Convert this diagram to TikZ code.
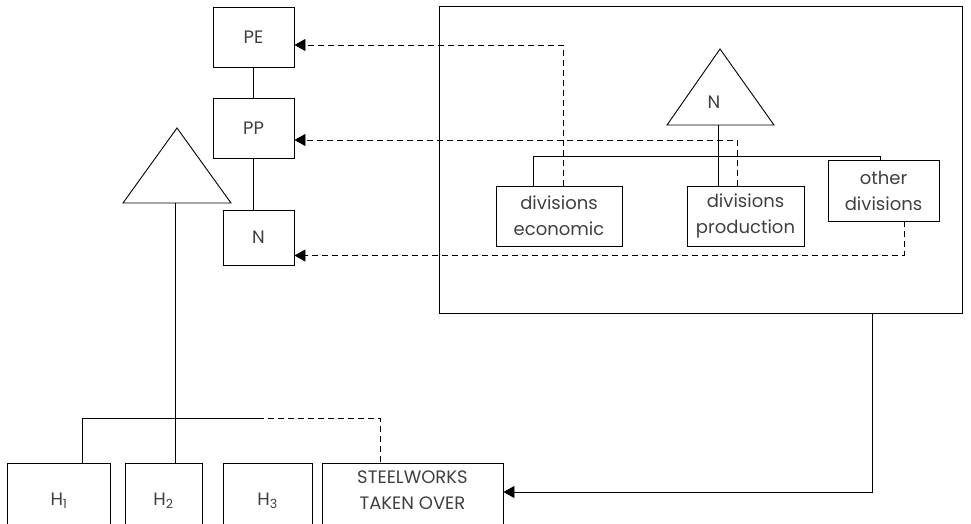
\documentclass[tikz,border=0pt]{standalone}
\usepackage{fontspec}
\setmainfont{Poppins}
\usepackage{tikz}
\usetikzlibrary{arrows.meta}

\begin{document}
\begin{tikzpicture}[x=1pt, y=-1pt, line width=0.9pt,
    box/.style={draw, rectangle, inner sep=2pt, align=center, text=black!75,
      font=\fontsize{18}{26}\selectfont},
    link/.style={dash pattern=on 6pt off 4pt},
    tip/.style={-{Triangle[length=11pt, width=12pt]}}]
    %\draw[help lines, step=50] (0, 0) grid (971, 523);
    \useasboundingbox (0, 0) rectangle (971, 523);

    % left column
    \node[box, minimum width=81pt, minimum height=60pt] at (253.5, 37) (PE) {PE};
    \node[box, minimum width=81pt, minimum height=60pt] at (253.5, 128) (PP) {PP};
    \node[box, minimum width=71pt, minimum height=55pt] at (258.5, 237.5) (N) {N};
    \draw (PE.south) -- (PP.north);
    \draw (PP.south) -- (PP.south |- N.north);

    % left triangle and the companies
    \draw (177, 128) -- (231, 203) -- (123, 203) -- cycle;
    \coordinate (root) at (175, 203);

    \node[box, minimum width=103pt, minimum height=76pt] at (59, 501) (H1) {H\textsubscript{1}};
    \node[box, minimum width=77pt, minimum height=76pt] at (163.5, 501) (H2) {H\textsubscript{2}};
    \node[box, minimum width=89pt, minimum height=76pt] at (267.5, 501) (H3) {H\textsubscript{3}};
    \node[box, minimum width=181pt, minimum height=76pt, text depth=22pt] at (412.5, 501) (steel) {STEELWORKS\\TAKEN OVER};

    \coordinate (dashstart) at (258, 418);
    \draw (root) -- (root |- H2.north);
    \draw (H1.north -| 82, 0) |- (dashstart);
    \draw[link] (dashstart) -| (H1.north -| 380, 0);

    % the firm
    \node[draw, rectangle, minimum width=523pt, minimum height=307pt] at (701, 160) (firm) {};
    \draw (720, 49) -- (774, 125) -- (667, 125) -- cycle;
    \node[text=black!75, font=\fontsize{18}{26}\selectfont] at (714, 102) (top) {N};
    \coordinate (topbase) at (718, 125);

    \node[box, minimum width=126pt, minimum height=60pt] at (559, 216) (econ) {divisions\\economic};
    \node[box, minimum width=117pt, minimum height=60pt] at (745.5, 216) (prod) {divisions\\production};
    \node[box, minimum width=111pt, minimum height=61pt] at (883.5, 190.5) (other) {other\\divisions};

    \draw (topbase) -- (topbase |- prod.north);
    \draw (econ.north -| 533, 0) |- (880, 156) -- (other.north -| 880, 0);

    % reporting lines
    \draw[link, tip] (econ.north -| 563, 0) |- ([yshift=-8pt]PE.east);
    \draw[link, tip] (prod.north -| 737, 0) |- ([yshift=-12pt]PP.east);
    \draw[link, tip] (other.south -| 904, 0) |- ([yshift=-18pt]N.east);
    \draw[tip] (firm.south -| 872, 0) |- ([yshift=9pt]steel.east);

  \end{tikzpicture}
\end{document}
